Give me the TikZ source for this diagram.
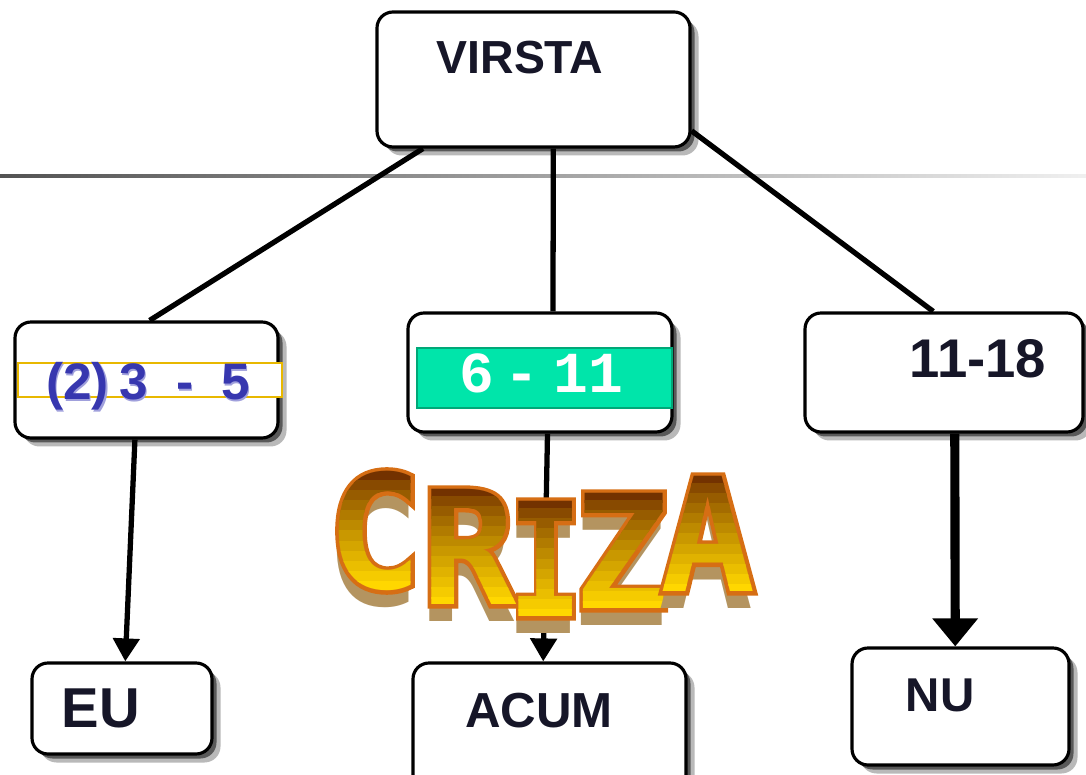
\documentclass[tikz,border=0pt]{standalone}
\usepackage{fontspec}
\usepackage{graphicx}
\usepackage{tikz}
\usetikzlibrary{arrows.meta}
\usetikzlibrary{shadows}

\newfontfamily\boxfont{Liberation Sans}
\newfontfamily\digitfont{Liberation Mono}
\newfontfamily\crizafont{DejaVu Sans Mono}
\newfontfamily\crizarimfont[BoldFeatures = {FakeBold = 5}]{DejaVu Sans Mono}

\definecolor{boxink}{RGB}{22,22,40}
\definecolor{ageblue}{RGB}{55,55,175}
\definecolor{agebluelight}{RGB}{160,160,220}
\definecolor{bandyellow}{RGB}{232,184,0}
\definecolor{bandgreen}{RGB}{0,229,170}
\definecolor{bandgreenrim}{RGB}{0,168,120}
\definecolor{crizatop}{RGB}{115,50,0}
\definecolor{crizabottom}{RGB}{255,215,0}
\definecolor{crizarim}{RGB}{214,110,20}
\definecolor{crizashadow}{RGB}{180,148,96}

\newcommand{\crizasize}{\fontsize{45}{45}\selectfont}

\tikzset{
  box/.style = {draw, line width = 0.9pt, rounded corners = 1.6mm, fill = white, inner sep = 0pt,
    drop shadow = {shadow xshift = 0.85mm, shadow yshift = -0.85mm, fill = gray!55, opacity = 1},
    drop shadow = {shadow xshift = 0.45mm, shadow yshift = -0.45mm, fill = gray!70!black, opacity = 1}},
  boxtext/.style = {font = \boxfont\bfseries\fontsize{#1}{#1}\selectfont, text = boxink, inner sep = 0pt, anchor = base},
  link/.style = {line width = 1.5pt},
  arrowlink/.style = {link, -{Triangle[width = 2.6mm, length = 2.3mm]}},
  bigarrowlink/.style = {line width = 2.6pt, -{Triangle[width = 4.4mm, length = 2.8mm]}},
  crizaletter/.style = {font = \crizafont\bfseries\crizasize, inner sep = 0pt},
  crizarimletter/.style = {font = \crizarimfont\bfseries\crizasize, inner sep = 0pt, text = crizarim}
}

\begin{document}
\begin{tikzpicture}
	\useasboundingbox (0,0) rectangle (10.86,7.74);
	
	% divider
	\shade[left color = gray!65!black, right color = gray!12] (0,5.965) rectangle (10.86,5.995);
	
	% top box
	\node[box, minimum width = 3.13cm, minimum height = 1.35cm] (virsta) at (5.335,6.945) {};
	\node[boxtext = 13.2] (virstatext) at (5.20,7.00) {VIRSTA};
	
	% age boxes
	\node[box, minimum width = 2.63cm, minimum height = 1.16cm] (age1) at (1.465,3.94) {};
	\node[box, minimum width = 2.64cm, minimum height = 1.19cm] (age2) at (5.40,4.015) {};
	\node[box, minimum width = 2.78cm, minimum height = 1.19cm] (age3) at (9.44,4.015) {};
	
	\draw[bandyellow, line width = 0.8pt, fill = white] (0.18,3.77) rectangle (2.82,4.11);
	\node[boxtext = 14.6, text = agebluelight] (age1shadow) at (1.495,3.72) {(2)\hspace{3pt}3\hspace{8pt}-\hspace{8pt}5};
	\node[boxtext = 14.6, text = ageblue] (age1text) at (1.48,3.74) {(2)\hspace{3pt}3\hspace{8pt}-\hspace{8pt}5};
	
	\draw[bandgreenrim, line width = 0.8pt, fill = bandgreen] (4.17,3.66) rectangle (6.72,4.26);
	\node[font = \digitfont\bfseries\fontsize{16.5}{16.5}\selectfont, text = white, inner sep = 0pt, anchor = base] (age2text) at (5.41,3.81) {6\hspace{3pt}-\hspace{4pt}11};
	
	\node[boxtext = 15.5] (age3text) at (9.78,3.96) {11-18};
	
	% bottom boxes
	\node[box, minimum width = 1.80cm, minimum height = 0.91cm] (eu) at (1.22,0.655) {};
	\node[boxtext = 16] (eutext) at (1.01,0.46) {EU};
	
	\node[box, minimum width = 2.73cm, minimum height = 1.41cm] (acum) at (5.495,0.405) {};
	\node[boxtext = 14] (acumtext) at (5.39,0.46) {ACUM};
	
	\node[box, minimum width = 2.17cm, minimum height = 1.17cm] (nu) at (9.605,0.675) {};
	\node[boxtext = 13.5] (nutext) at (9.40,0.62) {NU};
	
	% links
	\draw[link] (virsta.212) -- (age1.87);
	\draw[link] (virsta.286) -- (age2.78);
	\draw[link] (virsta.342) -- (age3.100);
	
	\draw[arrowlink] (age1.259) -- (eu.86);
	\draw[arrowlink] (age2.277) -- (acum.95);
	\draw[bigarrowlink] (age3.280) -- (nu.95);
	
	% word art: shadow, rim, then the face in bands from brown to yellow
	\foreach \n/\t/\x/\y in {C/C/3.75/2.43, R/R/4.69/2.27, I/{\scalebox{0.78}[1]{I}}/5.46/2.15, Z/Z/6.22/2.23, A/A/7.08/2.40}
	{
		\node[crizaletter, text = crizashadow] (shadow\n) at (\x-0.02,\y-0.17) {\t};
		\node[crizarimletter] (rim\n) at (\x,\y) {\t};
		\foreach \k in {0,...,11}
		{
			\pgfmathsetmacro\mix{100*(\k/11)^0.8}
			\pgfmathsetmacro\bandtop{\y+0.60-\k*0.1+(\k==0)*0.4}
			\pgfmathsetmacro\bandbot{\y+0.60-(\k+1)*0.1-0.015-(\k==11)*0.5}
			\begin{scope}
				\clip (\x-0.7,\bandtop) rectangle (\x+0.7,\bandbot);
				\node[crizaletter, text = crizabottom!\mix!crizatop] (face\n\k) at (\x,\y) {\t};
			\end{scope}
		}
	}
	
\end{tikzpicture}
\end{document}
